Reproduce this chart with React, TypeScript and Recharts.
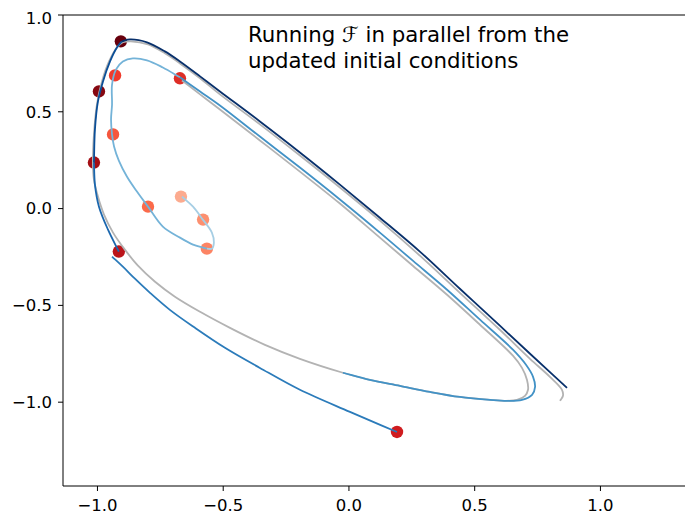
import React from "react";
import {
  ComposedChart,
  Line,
  Scatter,
  Cell,
  XAxis,
  YAxis,
  ReferenceLine,
} from "recharts";

// ---- data ----
const X_TICKS = [-1, -0.5, 0, 0.5, 1];
const Y_TICKS = [-1, -0.5, 0, 0.5, 1];

// reference trajectory (gray)
const graySeries = [
  { x: -0.664, y: 0.662 }, { x: -0.592, y: 0.59 }, { x: -0.513, y: 0.512 },
  { x: -0.354, y: 0.352 }, { x: -0.195, y: 0.191 }, { x: -0.036, y: 0.026 },
  { x: 0.123, y: -0.15 }, { x: 0.254, y: -0.295 }, { x: 0.39, y: -0.445 },
  { x: 0.521, y: -0.6 }, { x: 0.652, y: -0.76 }, { x: 0.688, y: -0.823 },
  { x: 0.708, y: -0.885 }, { x: 0.712, y: -0.936 }, { x: 0.7, y: -0.967 },
  { x: 0.668, y: -0.988 }, { x: 0.62, y: -0.993 }, { x: 0.561, y: -0.988 },
  { x: 0.441, y: -0.973 }, { x: 0.322, y: -0.947 }, { x: 0.203, y: -0.916 },
  { x: 0.083, y: -0.885 }, { x: -0.024, y: -0.848 }, { x: -0.195, y: -0.776 },
  { x: -0.334, y: -0.704 }, { x: -0.473, y: -0.616 }, { x: -0.592, y: -0.533 },
  { x: -0.692, y: -0.455 }, { x: -0.771, y: -0.378 }, { x: -0.839, y: -0.295 },
  { x: -0.891, y: -0.212 }, { x: -0.938, y: -0.124 }, { x: -0.974, y: -0.031 },
  { x: -0.998, y: 0.062 }, { x: -1.014, y: 0.15 }, { x: -1.018, y: 0.228 },
  { x: -1.014, y: 0.383 }, { x: -1.002, y: 0.538 }, { x: -0.982, y: 0.657 },
  { x: -0.954, y: 0.76 }, { x: -0.922, y: 0.833 }, { x: -0.899, y: 0.859 },
  { x: -0.867, y: 0.864 }, { x: -0.799, y: 0.848 }, { x: -0.732, y: 0.802 },
  { x: -0.672, y: 0.75 }, { x: -0.592, y: 0.673 }, { x: -0.513, y: 0.59 },
  { x: -0.354, y: 0.435 }, { x: -0.195, y: 0.274 }, { x: -0.036, y: 0.109 },
  { x: 0.123, y: -0.062 }, { x: 0.282, y: -0.243 }, { x: 0.441, y: -0.435 },
  { x: 0.6, y: -0.626 }, { x: 0.72, y: -0.776 }, { x: 0.799, y: -0.869 },
  { x: 0.847, y: -0.936 }, { x: 0.851, y: -0.967 }, { x: 0.839, y: -0.993 },
];

// fine segments
const segLightest = [
  { x: -0.664, y: 0.062 }, { x: -0.62, y: 0.01 }, { x: -0.581, y: -0.057 },
  { x: -0.545, y: -0.124 }, { x: -0.537, y: -0.176 }, { x: -0.545, y: -0.207 },
  { x: -0.565, y: -0.207 },
];

const segLight = [
  { x: -0.565, y: -0.207 }, { x: -0.62, y: -0.186 }, { x: -0.672, y: -0.15 },
  { x: -0.74, y: -0.093 }, { x: -0.799, y: 0.01 }, { x: -0.843, y: 0.088 },
  { x: -0.883, y: 0.166 }, { x: -0.915, y: 0.248 }, { x: -0.934, y: 0.321 },
  { x: -0.942, y: 0.383 }, { x: -0.946, y: 0.46 }, { x: -0.942, y: 0.538 },
  { x: -0.942, y: 0.641 }, { x: -0.926, y: 0.719 }, { x: -0.899, y: 0.76 },
  { x: -0.859, y: 0.776 }, { x: -0.803, y: 0.766 }, { x: -0.74, y: 0.729 },
  { x: -0.672, y: 0.678 },
];

const segMedium = [
  { x: -0.672, y: 0.678 }, { x: -0.592, y: 0.605 }, { x: -0.513, y: 0.533 },
  { x: -0.354, y: 0.372 }, { x: -0.195, y: 0.212 }, { x: -0.036, y: 0.047 },
  { x: 0.123, y: -0.124 }, { x: 0.254, y: -0.269 }, { x: 0.39, y: -0.419 },
  { x: 0.521, y: -0.574 }, { x: 0.652, y: -0.729 }, { x: 0.704, y: -0.807 },
  { x: 0.732, y: -0.869 }, { x: 0.74, y: -0.921 }, { x: 0.728, y: -0.962 },
  { x: 0.688, y: -0.988 }, { x: 0.628, y: -0.993 }, { x: 0.561, y: -0.988 },
  { x: 0.441, y: -0.973 }, { x: 0.322, y: -0.947 }, { x: 0.203, y: -0.916 },
  { x: 0.083, y: -0.885 }, { x: -0.024, y: -0.848 },
];

const segBottom = [
  { x: 0.191, y: -1.154 }, { x: 0.004, y: -1.05 }, { x: -0.195, y: -0.936 },
  { x: -0.354, y: -0.823 }, { x: -0.493, y: -0.719 }, { x: -0.612, y: -0.616 },
  { x: -0.712, y: -0.523 }, { x: -0.791, y: -0.435 }, { x: -0.851, y: -0.362 },
  { x: -0.899, y: -0.3 }, { x: -0.942, y: -0.248 },
];

const segLeftLow = [
  { x: -0.915, y: -0.222 }, { x: -0.958, y: -0.109 }, { x: -0.994, y: 0.01 },
  { x: -1.01, y: 0.124 }, { x: -1.014, y: 0.238 },
];

const segLeftHigh = [
  { x: -1.014, y: 0.238 }, { x: -1.01, y: 0.409 }, { x: -0.998, y: 0.554 },
  { x: -0.978, y: 0.657 }, { x: -0.95, y: 0.76 }, { x: -0.922, y: 0.833 },
  { x: -0.903, y: 0.864 },
];

const segOuter = [
  { x: -0.903, y: 0.864 }, { x: -0.871, y: 0.874 }, { x: -0.803, y: 0.859 },
  { x: -0.732, y: 0.812 }, { x: -0.672, y: 0.76 }, { x: -0.592, y: 0.683 },
  { x: -0.513, y: 0.605 }, { x: -0.354, y: 0.45 }, { x: -0.195, y: 0.29 },
  { x: -0.036, y: 0.124 }, { x: 0.123, y: -0.047 }, { x: 0.282, y: -0.222 },
  { x: 0.441, y: -0.414 }, { x: 0.6, y: -0.605 }, { x: 0.72, y: -0.75 },
  { x: 0.811, y: -0.859 }, { x: 0.867, y: -0.926 },
];

// updated initial conditions (dots)
const initialPoints = [
  { x: -0.668, y: 0.062 },
  { x: -0.58, y: -0.057 },
  { x: -0.565, y: -0.207 },
  { x: -0.799, y: 0.01 },
  { x: -0.938, y: 0.383 },
  { x: -0.93, y: 0.688 },
  { x: -0.672, y: 0.673 },
  { x: 0.191, y: -1.154 },
  { x: -0.915, y: -0.222 },
  { x: -1.014, y: 0.238 },
  { x: -0.994, y: 0.605 },
  { x: -0.907, y: 0.864 },
];
const dotColors = [
  "#fcab8f", "#fc9070", "#fc8464", "#fb6a4a", "#f5563d", "#ef3b2c",
  "#de2d26", "#cf1c1f", "#bb141a", "#a50f15", "#860811", "#67000d",
];

const X_DOMAIN = [-1.137, 1.368];
const Y_DOMAIN = [-1.433, 1.0];

const FONT = "'DejaVu Sans', sans-serif";

const fmt = (v: number) => (v < 0 ? "\u2212" : "") + Math.abs(v).toFixed(1);

// centripetal Catmull-Rom curve factory (rendering only)
const catmullRom = (context: any) => {
  let pts: number[][] = [];
  const draw = () => {
    const n = pts.length;
    if (n === 0) return;
    context.moveTo(pts[0][0], pts[0][1]);
    if (n === 1) return;
    for (let i = 0; i < n - 1; i++) {
      const p0 = pts[i - 1] || pts[i];
      const p1 = pts[i];
      const p2 = pts[i + 1];
      const p3 = pts[i + 2] || pts[i + 1];
      const d01 = Math.hypot(p1[0] - p0[0], p1[1] - p0[1]);
      const d12 = Math.hypot(p2[0] - p1[0], p2[1] - p1[1]);
      const d23 = Math.hypot(p3[0] - p2[0], p3[1] - p2[1]);
      const l01a = Math.sqrt(d01), l12a = Math.sqrt(d12), l23a = Math.sqrt(d23);
      let c1x, c1y, c2x, c2y;
      if (l01a > 1e-9) {
        const a = 2 * d01 + 3 * l01a * l12a + d12;
        const nn = 3 * l01a * (l01a + l12a);
        c1x = (p1[0] * a - p0[0] * d12 + p2[0] * d01) / nn;
        c1y = (p1[1] * a - p0[1] * d12 + p2[1] * d01) / nn;
      } else {
        c1x = p1[0] + (p2[0] - p1[0]) / 3;
        c1y = p1[1] + (p2[1] - p1[1]) / 3;
      }
      if (l23a > 1e-9) {
        const b = 2 * d23 + 3 * l23a * l12a + d12;
        const m = 3 * l23a * (l23a + l12a);
        c2x = (p2[0] * b + p1[0] * d23 - p3[0] * d12) / m;
        c2y = (p2[1] * b + p1[1] * d23 - p3[1] * d12) / m;
      } else {
        c2x = p2[0] - (p2[0] - p1[0]) / 3;
        c2y = p2[1] - (p2[1] - p1[1]) / 3;
      }
      context.bezierCurveTo(c1x, c1y, c2x, c2y, p2[0], p2[1]);
    }
  };
  return {
    areaStart() {},
    areaEnd() {},
    lineStart() {
      pts = [];
    },
    lineEnd() {
      draw();
    },
    point(x: number, y: number) {
      pts.push([+x, +y]);
    },
  };
};

const DotShape = (props: any) => {
  const { cx, cy, fill } = props;
  if (cx == null || cy == null) return null;
  return <circle cx={cx} cy={cy} r={6.2} fill={fill} />;
};

export default function App() {
  const lineProps = {
    dataKey: "y",
    dot: false,
    activeDot: false,
    isAnimationActive: false,
    type: catmullRom as any,
    strokeWidth: 1.8,
    legendType: "none" as const,
  };
  const tickStyle = { fill: "#000", fontSize: 16.5, fontFamily: FONT };
  return (
    <div style={{ position: "relative", width: 685, height: 507, fontFamily: FONT }}>
      <ComposedChart
        width={685}
        height={507}
        margin={{ top: 7, right: 0, left: 0, bottom: 0 }}
      >
        <XAxis
          dataKey="x"
          type="number"
          domain={X_DOMAIN}
          allowDataOverflow
          ticks={X_TICKS}
          tickFormatter={fmt}
          height={29}
          tickSize={5}
          tickMargin={8}
          stroke="#000"
          tick={tickStyle}
          tickLine={{ stroke: "#000" }}
          axisLine={{ stroke: "#000" }}
        />
        <YAxis
          dataKey="y"
          type="number"
          domain={Y_DOMAIN}
          allowDataOverflow
          ticks={Y_TICKS}
          tickFormatter={fmt}
          width={55}
          tickSize={5}
          tickMargin={6}
          stroke="#000"
          tick={tickStyle}
          tickLine={{ stroke: "#000" }}
          axisLine={{ stroke: "#000" }}
        />
        <ReferenceLine y={1.0} stroke="#000" strokeWidth={1} ifOverflow="extendDomain" />
        <Scatter
          data={initialPoints}
          isAnimationActive={false}
          shape={DotShape}
          zIndex={350}
        >
          {initialPoints.map((_, i) => (
            <Cell key={i} fill={dotColors[i]} />
          ))}
        </Scatter>
        <Line {...lineProps} data={graySeries} stroke="#b3b3b3" />
        <Line {...lineProps} data={segLightest} stroke="#a6cee4" />
        <Line {...lineProps} data={segLight} stroke="#74b3d8" />
        <Line {...lineProps} data={segMedium} stroke="#4292c6" />
        <Line {...lineProps} data={segBottom} stroke="#2b7bba" />
        <Line {...lineProps} data={segLeftLow} stroke="#1b67ae" />
        <Line {...lineProps} data={segLeftHigh} stroke="#0b4f98" />
        <Line {...lineProps} data={segOuter} stroke="#08306b" />
      </ComposedChart>
      <div
        style={{
          position: "absolute",
          left: 240,
          top: 14,
          fontSize: 21.3,
          lineHeight: "26px",
          color: "#000",
          whiteSpace: "nowrap",
          fontFamily: FONT,
        }}
      >
        <div>Running ℱ in parallel from the</div>
        <div>updated initial conditions</div>
      </div>
    </div>
  );
}
